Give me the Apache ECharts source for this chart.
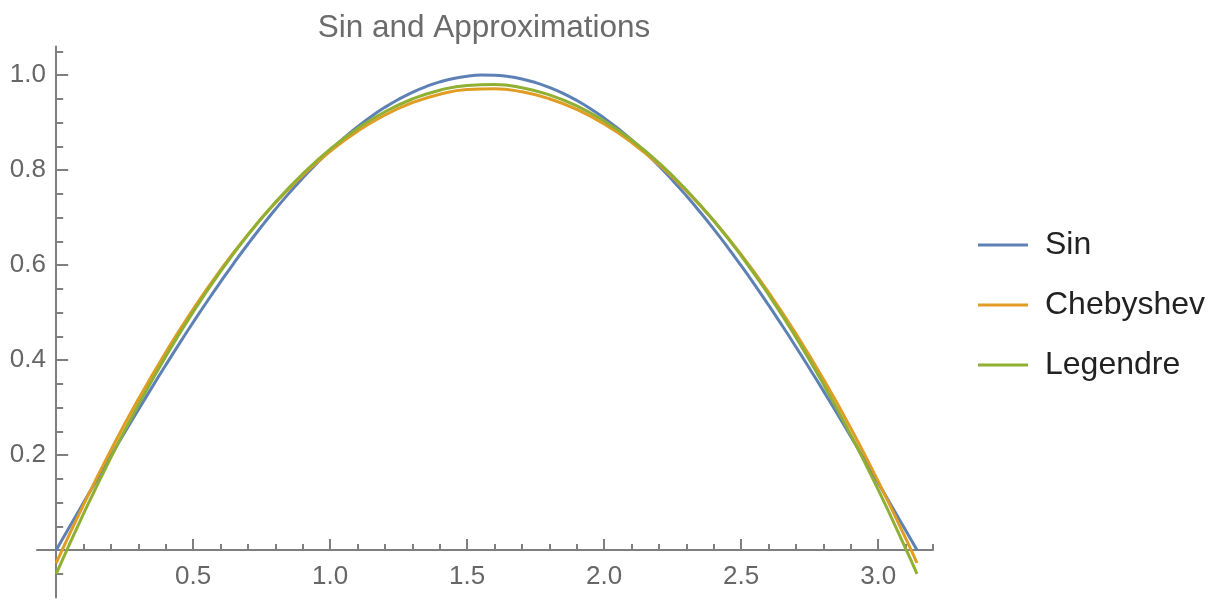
<!DOCTYPE html>
<html>
<head>
<meta charset="utf-8">
<script src="https://cdn.jsdelivr.net/npm/echarts@6/dist/echarts.min.js"></script>
<style>
html,body{margin:0;padding:0;background:#fff;}
#chart{width:1221px;height:601px;}
</style>
</head>
<body>
<div id="chart"></div>
<script>
// sample positions for the Sin curve
var xsSin = [0, 0.05, 0.1, 0.15, 0.2, 0.25, 0.3, 0.35, 0.4, 0.45, 0.5, 0.55, 0.6, 0.65, 0.7, 0.75, 0.8, 0.85,
             0.9, 0.95, 1.0, 1.05, 1.1, 1.15, 1.2, 1.25, 1.3, 1.35, 1.4, 1.45, 1.5, 1.55, 1.6, 1.65, 1.7,
             1.75, 1.8, 1.85, 1.9, 1.95, 2.0, 2.05, 2.1, 2.15, 2.2, 2.25, 2.3, 2.35, 2.4, 2.45, 2.5, 2.55,
             2.6, 2.65, 2.7, 2.75, 2.8, 2.85, 2.9, 2.95, 3.0, 3.05, 3.1, 3.1416];
var sinVals = [0, 0.0500, 0.0998, 0.1494, 0.1987, 0.2474, 0.2955, 0.3429, 0.3894, 0.4350, 0.4794, 0.5227,
               0.5646, 0.6052, 0.6442, 0.6816, 0.7174, 0.7513, 0.7833, 0.8134, 0.8415, 0.8674, 0.8912,
               0.9128, 0.9320, 0.9490, 0.9636, 0.9757, 0.9854, 0.9927, 0.9975, 0.9998, 0.9996, 0.9969,
               0.9917, 0.9840, 0.9738, 0.9613, 0.9463, 0.9290, 0.9093, 0.8874, 0.8632, 0.8369, 0.8085,
               0.7781, 0.7457, 0.7115, 0.6755, 0.6378, 0.5985, 0.5577, 0.5155, 0.4720, 0.4274, 0.3817,
               0.3350, 0.2875, 0.2392, 0.1904, 0.1411, 0.0915, 0.0416, 0];
// sample positions for the two approximations
var xs = [0, 0.1, 0.2, 0.3, 0.4, 0.5, 0.6, 0.7, 0.8, 0.9, 1.0, 1.1, 1.2, 1.3, 1.4, 1.5, 1.6,
          1.7, 1.8, 1.9, 2.0, 2.1, 2.2, 2.3, 2.4, 2.5, 2.6, 2.7, 2.8, 2.9, 3.0, 3.1, 3.1416];
var chebVals = [-0.0274, 0.0957, 0.2107, 0.3177, 0.4165, 0.5073, 0.5899, 0.6644, 0.7309, 0.7893, 0.8395,
                0.8817, 0.9157, 0.9417, 0.9596, 0.9694, 0.9711, 0.9646, 0.9501, 0.9275, 0.8968,
                0.8580, 0.8111, 0.7561, 0.6931, 0.6219, 0.5426, 0.4552, 0.3598, 0.2562, 0.1446, 0.0248, -0.0274];
var legVals = [-0.0504, 0.0766, 0.1953, 0.3056, 0.4076, 0.5012, 0.5865, 0.6634, 0.7320, 0.7922, 0.8441,
               0.8876, 0.9227, 0.9495, 0.9680, 0.9781, 0.9798, 0.9732, 0.9582, 0.9349, 0.9032,
               0.8632, 0.8148, 0.7580, 0.6930, 0.6195, 0.5377, 0.4476, 0.3491, 0.2422, 0.1270, 0.0034, -0.0504];
var seriesNames = ['Sin', 'Chebyshev', 'Legendre'];
var xMajorTicks = [0.5, 1.0, 1.5, 2.0, 2.5, 3.0];
var xMinorTicks = [0.1, 0.2, 0.3, 0.4, 0.6, 0.7, 0.8, 0.9, 1.1, 1.2, 1.3, 1.4, 1.6, 1.7, 1.8, 1.9,
                   2.1, 2.2, 2.3, 2.4, 2.6, 2.7, 2.8, 2.9, 3.1, 3.2];
var yMajorTicks = [0.2, 0.4, 0.6, 0.8, 1.0];
var yMinorTicks = [-0.05, 0.05, 0.1, 0.15, 0.25, 0.3, 0.35, 0.45, 0.5, 0.55, 0.65, 0.7, 0.75,
                   0.85, 0.9, 0.95, 1.05];

function pairs(xv, vals) { return xv.map(function (x, i) { return [x, vals[i]]; }); }

var axisCol = '#7f7f7f';
var XMIN = -0.07, XMAX = 3.2, YMIN = -0.1, YMAX = 1.06;
var font = 'Liberation Sans, Arial, sans-serif';

var chart = echarts.init(document.getElementById('chart'));
chart.setOption({
  animation: false,
  backgroundColor: '#fff',
  color: ['#5E81B5', '#E19C24', '#8FB032'],
  title: {
    text: 'Sin and Approximations',
    left: 479, top: 7, textAlign: 'center',
    textStyle: { fontFamily: font, fontSize: 31.5, fontWeight: 'normal', color: '#6b6b6b' }
  },
  legend: {
    orient: 'vertical', left: 973, top: 222,
    icon: 'rect', itemWidth: 50, itemHeight: 3, itemGap: 24,
    data: seriesNames,
    textStyle: { fontFamily: font, fontSize: 32, lineHeight: 36, color: '#222', padding: [0, 0, 0, 12] }
  },
  grid: { left: 37, right: 288, top: 46.5, bottom: 3.5, containLabel: false, outerBoundsMode: 'none' },
  xAxis: [{
    type: 'value', min: XMIN, max: XMAX, position: 'bottom',
    axisLine: { onZero: true, lineStyle: { color: axisCol, width: 2 } },
    axisTick: { show: true, inside: true, length: 11, customValues: xMajorTicks, lineStyle: { color: axisCol, width: 2 } },
    axisLabel: { customValues: xMajorTicks, margin: -34, fontFamily: font, fontSize: 26, color: '#666',
                 hideOverlap: false, formatter: function (v) { return v.toFixed(1); } },
    splitLine: { show: false }
  }, {
    type: 'value', min: XMIN, max: XMAX, position: 'bottom',
    axisLine: { show: false, onZero: true },
    axisTick: { show: true, inside: true, length: 6, customValues: xMinorTicks, lineStyle: { color: axisCol, width: 2 } },
    axisLabel: { show: false },
    splitLine: { show: false }
  }],
  yAxis: [{
    type: 'value', min: YMIN, max: YMAX, position: 'left',
    axisLine: { onZero: true, lineStyle: { color: axisCol, width: 2 } },
    axisTick: { show: true, inside: true, length: 12, customValues: yMajorTicks, lineStyle: { color: axisCol, width: 2 } },
    axisLabel: { customValues: yMajorTicks, margin: -9, fontFamily: font, fontSize: 26, color: '#666',
                 hideOverlap: false, formatter: function (v) { return v.toFixed(1); } },
    splitLine: { show: false }
  }, {
    type: 'value', min: YMIN, max: YMAX, position: 'left',
    axisLine: { show: false, onZero: true },
    axisTick: { show: true, inside: true, length: 7, customValues: yMinorTicks, lineStyle: { color: axisCol, width: 2 } },
    axisLabel: { show: false },
    splitLine: { show: false }
  }],
  series: [
    { name: seriesNames[0], type: 'line', data: pairs(xsSin, sinVals), smooth: true, showSymbol: false, symbol: 'none',
      lineStyle: { width: 3 }, xAxisIndex: 0, yAxisIndex: 0 },
    { name: seriesNames[1], type: 'line', data: pairs(xs, chebVals), smooth: true, showSymbol: false, symbol: 'none',
      lineStyle: { width: 3 }, xAxisIndex: 0, yAxisIndex: 0 },
    { name: seriesNames[2], type: 'line', data: pairs(xs, legVals), smooth: true, showSymbol: false, symbol: 'none',
      lineStyle: { width: 3 }, xAxisIndex: 0, yAxisIndex: 0 }
  ]
});
</script>
</body>
</html>
